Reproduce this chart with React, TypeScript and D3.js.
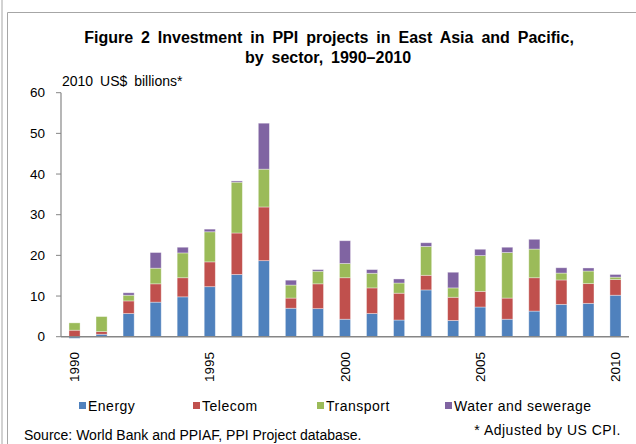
import React from "react";
import * as d3 from "d3";

const years = ["1990","1991","1992","1993","1994","1995","1996","1997","1998","1999","2000","2001","2002","2003","2004","2005","2006","2007","2008","2009","2010"];
const energy = [-0.4, 0.6, 5.7, 8.5, 9.8, 12.3, 15.3, 18.7, 7.0, 6.9, 4.3, 5.7, 4.1, 11.5, 4.0, 7.3, 4.3, 6.3, 7.95, 8.2, 10.2];
const telecom = [1.6, 0.65, 3.1, 4.5, 4.7, 6.1, 10.2, 13.2, 2.5, 6.1, 10.2, 6.3, 6.6, 3.6, 5.7, 3.85, 5.2, 8.2, 6.0, 4.85, 3.85];
const transport = [1.8, 3.7, 1.4, 3.85, 6.1, 7.4, 12.5, 9.3, 3.2, 3.1, 3.5, 3.6, 2.5, 7.1, 2.3, 8.8, 11.2, 7.05, 1.7, 3.1, 0.6];
const water = [0, 0, 0.6, 3.85, 1.4, 0.65, 0.3, 11.3, 1.2, 0.4, 5.6, 0.9, 1.0, 0.9, 3.85, 1.55, 1.3, 2.4, 1.3, 0.75, 0.65];
const seriesNames = ["Energy", "Telecom", "Transport", "Water and sewerage"];
const seriesColors = ["#4F81BD", "#C0504D", "#9BBB59", "#8064A2"];
const yTicks = [0, 10, 20, 30, 40, 50, 60];
const xLabelYears = ["1990", "1995", "2000", "2005", "2010"];
const legendX = [79, 193, 317, 445];

export default function App() {
  const W = 636, H = 444;
  const left = 61, right = 629, top = 92.7, bottom = 336.7;
  const x = d3.scaleBand<string>().domain(years).range([left, right]).paddingInner(0.59).paddingOuter(0.295);
  const y = d3.scaleLinear().domain([0, 60]).range([bottom, top]);
  const rows = years.map((yr, i) => ({ year: yr, s0: energy[i], s1: telecom[i], s2: transport[i], s3: water[i] }));
  const stack = d3.stack<any>().keys(["s0", "s1", "s2", "s3"]).offset(d3.stackOffsetDiverging);
  const layers = stack(rows);
  const font = "Liberation Sans, Arial, sans-serif";
  return (
    <svg width={W} height={H} style={{ position: "absolute", left: 0, top: 0, background: "#fff" }} fontFamily={font}>
      <rect x={0} y={0} width={W} height={H} fill="#fff" />
      <line x1={2} y1={0} x2={2} y2={H} stroke="#a6a6a6" strokeWidth={1} />
      <path d={`M7.5,${H} V12.5 H${W}`} fill="none" stroke="#a6a6a6" strokeWidth={1} />
      <text x={329} y={43} textAnchor="middle" fontSize={16} fontWeight="bold" wordSpacing={3.5} fill="#000">Figure 2 Investment in PPI projects in East Asia and Pacific,</text>
      <text x={328} y={63} textAnchor="middle" fontSize={16} fontWeight="bold" wordSpacing={3.5} fill="#000">by sector, 1990–2010</text>
      <text x={62} y={86} fontSize={14} wordSpacing={3} fill="#000">2010 US$ billions*</text>
      {layers.map((layer, li) => (
        <g key={li} fill={seriesColors[li]}>
          {layer.map((d, i) => {
            const y0 = y(d[0]), y1 = y(d[1]);
            const h = Math.abs(y0 - y1);
            if (h < 0.01) return null;
            return <rect key={i} x={x(years[i])} y={Math.min(y0, y1)} width={x.bandwidth()} height={h} stroke="#ffffff" strokeOpacity={0.45} strokeWidth={0.8} />;
          })}
        </g>
      ))}
      <line x1={left} y1={top} x2={left} y2={bottom} stroke="#868686" strokeWidth={1.2} />
      <line x1={left} y1={bottom} x2={right} y2={bottom} stroke="#868686" strokeWidth={1.5} />
      {yTicks.map(t => (
        <g key={t}>
          <line x1={left - 5} x2={left} y1={y(t)} y2={y(t)} stroke="#868686" />
          <text x={45} y={y(t)} dy="0.35em" textAnchor="end" fontSize={13.5} fill="#000">{t}</text>
        </g>
      ))}
      {xLabelYears.map(yr => {
        const cx = (x(yr) as number) + x.bandwidth() / 2;
        return <text key={yr} transform={`translate(${cx + 4.5},352) rotate(-90)`} textAnchor="end" fontSize={13.5} fill="#000">{yr}</text>;
      })}
      {seriesNames.map((n, i) => (
        <g key={n}>
          <rect x={legendX[i]} y={402} width={7} height={7} fill={seriesColors[i]} />
          <text x={legendX[i] + 9} y={411} fontSize={14} letterSpacing={0.5} fill="#000">{n}</text>
        </g>
      ))}
      <text x={24} y={440} fontSize={14} fill="#000">Source:  World Bank and PPIAF, PPI Project database.</text>
      <text x={621} y={435} textAnchor="end" fontSize={14} letterSpacing={0.5} fill="#000">* Adjusted by US CPI.</text>
    </svg>
  );
}
